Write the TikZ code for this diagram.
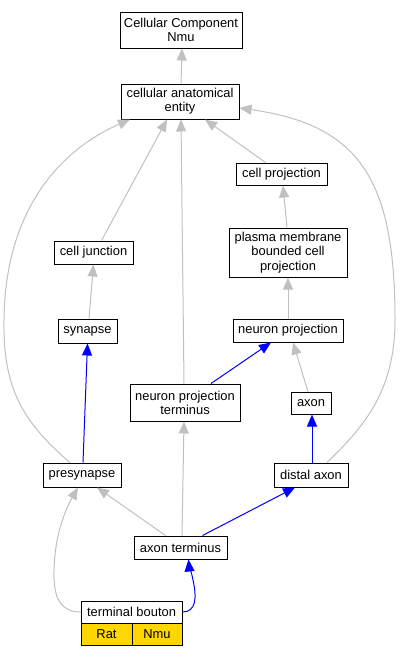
\documentclass[tikz,border=0pt]{standalone}
\usepackage{fontspec}
\setmainfont{Liberation Sans}
\usetikzlibrary{arrows.meta}
\definecolor{edgegrey}{HTML}{C0C0C0}
\definecolor{goldfill}{HTML}{FFD700}
\begin{document}
\begin{tikzpicture}[x=1pt,y=-1pt,
  term/.style={draw=black, line width=1pt, inner sep=0pt, fill=white, align=center,
    font=\fontsize{12.9}{14.2}\selectfont},
  cell/.style={term, fill=goldfill},
  gedge/.style={draw=edgegrey, line width=1pt, -{Triangle[length=12pt,width=10pt]}},
  bedge/.style={draw=blue, line width=1pt, -{Triangle[length=12pt,width=10pt]}}]
\useasboundingbox (0,0) rectangle (400,656);
\node[term, minimum width=122, minimum height=36] (ccn) at (181,30) {Cellular Component\\Nmu};
\node[term, minimum width=118, minimum height=35] (cae) at (180,101.5) {cellular anatomical\\entity};
\node[term, minimum width=91, minimum height=22] (cp) at (281.5,174) {cell projection};
\node[term, minimum width=79, minimum height=23] (cj) at (93.5,252.5) {cell junction};
\node[term, minimum width=118, minimum height=49] (pmbcp) at (288,252.5) {plasma membrane\\bounded cell\\projection};
\node[term, minimum width=59, minimum height=24] (syn) at (87.5,331) {synapse};
\node[term, minimum width=110, minimum height=23] (np) at (288,330.5) {neuron projection};
\node[term, minimum width=110, minimum height=37] (npt) at (185,402.5) {neuron projection\\terminus};
\node[term, minimum width=40, minimum height=22] (axon) at (311,403) {axon};
\node[term, minimum width=78, minimum height=24] (pre) at (82,475) {presynapse};
\node[term, minimum width=74, minimum height=24] (da) at (311,475) {distal axon};
\node[term, minimum width=93, minimum height=23] (at) at (180.5,547.5) {axon terminus};
\node[term, minimum width=101, minimum height=22] (tb) at (131.5,612) {terminal bouton};
\node[cell, minimum width=51, minimum height=22] (rat) at (106.5,634) {Rat};
\node[cell, minimum width=50, minimum height=22] (nmu) at (157,634) {Nmu};

\draw[gedge] ([xshift=1pt]cae.north) -- ([xshift=1pt]ccn.south);
\draw[gedge] ([xshift=8pt]cj.north) -- ([xshift=-13pt]cae.south);
\draw[gedge] ([xshift=-1pt]npt.north) -- ([xshift=1pt]cae.south);
\draw[gedge] ([xshift=-16pt]cp.north) -- ([xshift=25pt]cae.south);
\draw[gedge] ([xshift=-12pt]pre.north) .. controls (20,420) and (3,385) .. (4,320)
   .. controls (5,210) and (60,150) .. ([xshift=-50pt]cae.south);
\draw[gedge] ([xshift=16pt]da.north) .. controls (360,430) and (395,395) .. (395,320)
   .. controls (395,180) and (360,125) .. ([yshift=-6.5pt]cae.east);
\draw[gedge] ([xshift=-1pt]pmbcp.north) -- ([xshift=1.5pt]cp.south);
\draw[gedge] (np.north) -- (pmbcp.south);
\draw[gedge] ([xshift=-3pt]axon.north) -- ([xshift=5pt]np.south);
\draw[gedge] ([xshift=1.5pt]syn.north) -- (cj.south);
\draw[bedge] ([xshift=26pt]npt.north) -- ([xshift=-17pt]np.south);
\draw[bedge] ([xshift=1pt]pre.north) -- (syn.south);
\draw[bedge] ([xshift=1pt]da.north) -- ([xshift=1pt]axon.south);
\draw[gedge] ([xshift=-15pt]at.north) -- ([xshift=15pt]pre.south);
\draw[bedge] ([xshift=22pt]at.north) -- ([xshift=-16pt]da.south);
\draw[gedge] ([xshift=1.5pt]at.north) -- ([xshift=-1pt]npt.south);
\draw[gedge] (tb.west) .. controls (62,612) and (53,600) .. (54,570)
   .. controls (55,530) and (68,505) .. ([xshift=-4pt]pre.south);
\draw[bedge] (tb.east) .. controls (196,612) and (197,598) .. (193,580)
   .. controls (191,570) and (189,565) .. ([xshift=8pt]at.south);
\end{tikzpicture}
\end{document}
